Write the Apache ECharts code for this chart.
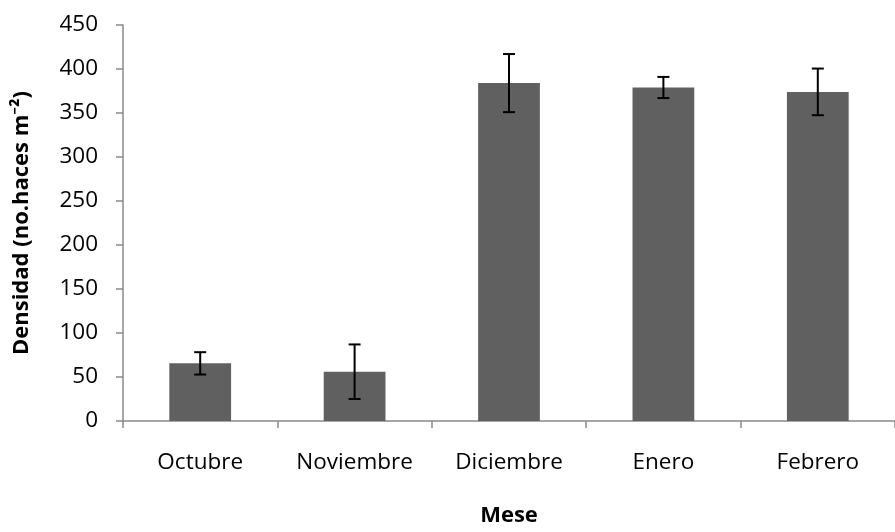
<!DOCTYPE html>
<html>
<head>
<meta charset="utf-8">
<script src="https://cdn.jsdelivr.net/npm/echarts@6/dist/echarts.min.js"></script>
<style>html,body{margin:0;padding:0;background:#fff}#c{width:895px;height:532px}</style>
</head>
<body>
<div id="c"></div>
<script>
const months = ['Octubre', 'Noviembre', 'Diciembre', 'Enero', 'Febrero'];
const means = [65.5, 56, 384, 379, 374];
const errors = [12.7, 31, 33, 12, 26.5];
const yTicks = [0, 50, 100, 150, 200, 250, 300, 350, 400, 450];

const font = '"Open Sans", "Noto Sans", sans-serif';
const axisColor = '#898989';
const chart = echarts.init(document.getElementById('c'), null, {renderer: 'canvas'});
chart.setOption({
  animation: false,
  backgroundColor: '#fff',
  grid: {left: 123, right: -8, top: 25, bottom: 103, containLabel: false},
  xAxis: {
    type: 'category',
    data: months,
    boundaryGap: true,
    name: 'Mese',
    nameLocation: 'middle',
    nameGap: 84,
    nameTextStyle: {fontFamily: font, fontSize: 22, fontWeight: 'bold', color: '#000'},
    axisLine: {show: true, lineStyle: {color: axisColor, width: 1.5}},
    axisTick: {show: true, length: 7, inside: false, alignWithLabel: false, lineStyle: {color: axisColor, width: 1.5}},
    axisLabel: {margin: 30, fontFamily: font, fontSize: 22.5, color: '#000'},
    splitLine: {show: false}
  },
  yAxis: {
    type: 'value',
    min: yTicks[0],
    max: yTicks[yTicks.length - 1],
    interval: yTicks[1] - yTicks[0],
    name: 'Densidad (no.haces m\u207B\u00B2)',
    nameLocation: 'middle',
    nameGap: 90,
    nameRotate: 90,
    nameTextStyle: {fontFamily: font, fontSize: 22, fontWeight: 'bold', color: '#000'},
    axisLine: {show: true, lineStyle: {color: axisColor, width: 1.5}},
    axisTick: {show: true, length: 7, inside: false, lineStyle: {color: axisColor, width: 1.5}},
    axisLabel: {margin: 25, fontFamily: font, fontSize: 22.5, color: '#000'},
    splitLine: {show: false}
  },
  series: [
    {
      type: 'bar',
      data: means,
      barWidth: '40%',
      itemStyle: {color: '#606060'},
      z: 2
    },
    {
      type: 'custom',
      z: 3,
      data: means.map((m, i) => [i, m - errors[i], m + errors[i]]),
      renderItem: function (params, api) {
        const x = api.value(0);
        const lo = api.coord([x, api.value(1)]);
        const hi = api.coord([x, api.value(2)]);
        const half = 6;
        const style = {stroke: '#000', lineWidth: 2};
        return {
          type: 'group',
          children: [
            {type: 'line', shape: {x1: hi[0], y1: hi[1], x2: lo[0], y2: lo[1]}, style: style},
            {type: 'line', shape: {x1: hi[0] - half, y1: hi[1], x2: hi[0] + half, y2: hi[1]}, style: style},
            {type: 'line', shape: {x1: lo[0] - half, y1: lo[1], x2: lo[0] + half, y2: lo[1]}, style: style}
          ]
        };
      }
    }
  ]
});
</script>
</body>
</html>
